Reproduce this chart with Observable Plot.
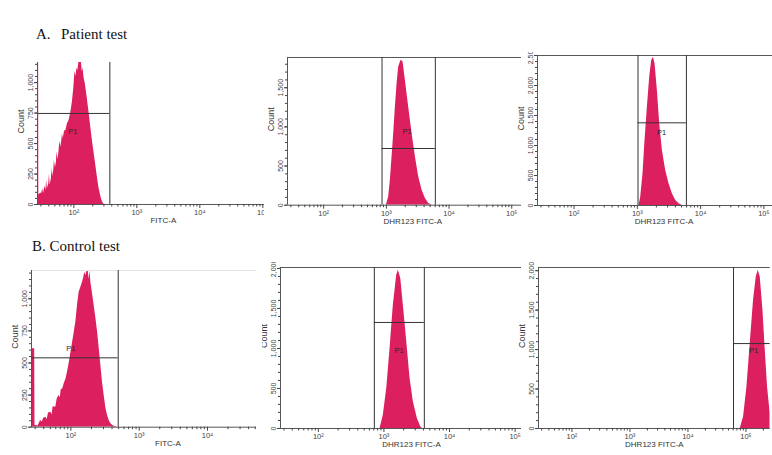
<!DOCTYPE html>
<html><head><meta charset="utf-8">
<script src="https://cdn.jsdelivr.net/npm/d3@7"></script>
<script src="https://cdn.jsdelivr.net/npm/@observablehq/plot@0.6"></script>
<style>
html,body{margin:0;padding:0;background:#fff;overflow:hidden;}
#root{position:relative;width:772px;height:455px;overflow:hidden;}
.title{position:absolute;font-family:"Liberation Serif","Times New Roman",serif;font-size:15px;line-height:15px;color:#111;white-space:pre;}
.panel{position:absolute;overflow:hidden;}
.panel svg{position:absolute;}
</style></head>
<body><div id="root"></div>
<script>
// ---------- shared axis data ----------
const xDomain = [26.5, 262144];
const xMajorTicks = [100, 1000, 10000, 100000];
const xMajorLabels = ["10²", "10³", "10⁴", "10⁵"];
const xMinorTicks = [30,40,50,60,70,80,90,200,300,400,500,600,700,800,900,
  2000,3000,4000,5000,6000,7000,8000,9000,20000,30000,40000,50000,60000,70000,80000,90000,200000];
const rowTitles = ["A.", "Patient test", "B. Control test"];
const gateName = "P1";

// ---------- A1: patient, FITC-A ----------
const a1Fluor = [26.5,27.6,27.8,29,31,32,33,34,35,36,37,38,40,41,42,44,45,46,48,49,51,53,54,56,58,60,62,64,66,68,71,75,79,84,90,95,100,104,108,112,116,120,132,136,140,145,152,161,168,175,186,198,210,223,237,252,270,286,303];
const a1Count = [1165,1165,80,88,95,130,90,120,150,115,200,130,170,250,160,210,300,230,280,360,300,350,430,370,431,520,470,510,580,540,600,610,660,690,760,843,960,1091,1050,1118,1100,1165,1165,1090,1120,1040,990,899,820,748,630,514,420,321,220,129,60,19,0];
const a1YMax = 1165, a1YTicks = [0,250,500,750,1000];
const a1Gate = [26.5, 373, 747];       // low, high, level
const a1GateLabel = [96, 599];
const a1XLabel = "FITC-A";

// ---------- A2: patient, DHR123 unstimulated ----------
const a2Fluor = [1000,1089,1158,1233,1310,1393,1483,1572,1714,1845,2009,2270,2570,2904,3283,3715,4190,4732,5358];
const a2Count = [0,106,319,617,916,1255,1554,1766,1852,1830,1596,1255,916,617,361,192,86,22,0];
const a2YMax = 1886, a2YTicks = [0,500,1000,1500];
const a2Gate = [853, 6040, 724];
const a2GateLabel = [2140, 936];
const a2XLabel = "DHR123 FITC-A";

// ---------- A3: patient, DHR123 stimulated ----------
const a3Fluor = [1064,1132,1231,1324,1443,1570,1688,1795,1905,2075,2258,2489,2809,3170,3581,4042,4560,5149];
const a3Count = [0,139,528,1083,1639,2139,2417,2472,2361,1917,1361,917,583,361,194,83,28,0];
const a3YMax = 2500, a3YTicks = [0,500,1000,1500,2000,2500];
const a3Gate = [1026, 5970, 1378];
const a3GateLabel = [2427, 1222];
const a3XLabel = "DHR123 FITC-A";

// ---------- B1: control, FITC-A ----------
const b1Fluor = [26.5,29.5,29.8,33,36,38,40,43,45,47,51,53,55,60,63,67,70,72,76,80,85,90,95,100,106,112,118,125,132,140,148,155,160,166,172,179,185,190,196,206,219,232,246,260,275,290,307,325,344,365,385,420,456,480];
const b1Count = [610,610,15,10,52,40,70,78,60,110,117,95,160,156,220,247,230,290,299,340,377,440,506,580,662,740,818,950,1051,1090,1129,1170,1207,1180,1220,1218,1150,1220,1129,1050,948,850,740,610,480,350,247,150,91,50,26,10,5,0];
const b1YMax = 1220, b1YTicks = [0,250,500,750,1000];
const b1Gate = [26.5, 493, 540];
const b1GateLabel = [100, 610];
const b1XLabel = "FITC-A";

// ---------- B2: control, DHR123 unstimulated ----------
const b2Fluor = [873,979,1104,1240,1391,1566,1660,1805,1977,2228,2502,2808,3230,3640,3850];
const b2Count = [0,166,500,1000,1541,1916,1979,1875,1541,1083,625,333,125,21,0];
const b2YMax = 2012, b2YTicks = [0,500,1000,1500,2000];
const b2Gate = [714, 4130, 1325];
const b2GateLabel = [1698, 979];
const b2XLabel = "DHR123 FITC-A";

// ---------- B3: control, DHR123 stimulated ----------
const b3Fluor = [79800,91000,104000,118600,135200,150600,163000,176400,196400,215300,235700,262144];
const b3Count = [0,147,527,1076,1624,1919,2004,1919,1497,991,527,190];
const b3YMax = 2040, b3YTicks = [0,500,1000,1500,2000];
const b3Gate = [61100, 262144, 1076];
const b3GateLabel = [135300, 991];
const b3XLabel = "DHR123 FITC-A";

// ---------- layout (positions only) ----------
const PINK = "#dc1f5e";
const root = document.getElementById("root");
const fmtComma = d3.format(",");

function addTitle(text, left, top) {
  const d = document.createElement("div");
  d.className = "title"; d.textContent = text;
  d.style.left = left + "px"; d.style.top = top + "px";
  root.appendChild(d);
}
addTitle(rowTitles[0], 36, 27);
addTitle(rowTitles[1], 61, 27);
addTitle(rowTitles[2], 32, 239);

function drawPanel(fluor, count, yMax, yTicks, yStep, gate, gateLabel, xLabel, L) {
  const lmin = Math.log10(xDomain[0]), lmax = Math.log10(xDomain[1]);
  const x0 = L.pos100 - (2 - lmin) * L.dec;
  const x1 = L.pos100 + (lmax - 2) * L.dec;
  const mL = 40, mR = 14, mT = 14, mB = 34;
  const width = (x1 - x0) + mL + mR;
  const height = (L.base - L.top) + mT + mB;
  const data = fluor.map((f, i) => ({x: f, y: count[i]}));
  const yMinor = d3.range(0, yMax + 1, yStep);
  const gateEdges = gate[1] >= xDomain[1] ? [gate[0]] : [gate[0], gate[1]];
  // only keep major tick labels that fall (at least partly) inside the visible crop
  const majors = xMajorTicks.filter(t => L.pos100 + (Math.log10(t) - 2) * L.dec < L.clip[2] + 2);
  const svg = Plot.plot({
    width, height, marginLeft: mL, marginRight: mR, marginTop: mT, marginBottom: mB,
    style: {fontFamily: "'Liberation Sans', Arial, sans-serif", fontSize: "7px", color: "#444", background: "none", maxWidth: "none", overflow: "visible"},
    x: {type: "log", domain: xDomain},
    y: {domain: [0, yMax]},
    marks: [
      Plot.areaY(data, {x: "x", y: "y", fill: PINK, clip: true}),
      L.topBorder ? Plot.ruleY([yMax], {stroke: L.topBorder, strokeWidth: 1}) : null,
      Plot.ruleX(gateEdges, {stroke: "#333", strokeWidth: 1}),
      Plot.ruleY([{y: gate[2], x1: gate[0], x2: gate[1]}], {y: "y", x1: "x1", x2: "x2", stroke: "#333", strokeWidth: 1}),
      Plot.text([{x: gateLabel[0], y: gateLabel[1]}], {x: "x", y: "y", text: () => gateName, fontSize: 7.5, fill: "#2a2a2a"}),
      Plot.ruleY([0], {stroke: "#555"}),
      Plot.ruleX([xDomain[0]], {stroke: "#555"}),
      Plot.axisX(majors, {tickSize: 4, tickPadding: 1, tickFormat: (d) => xMajorLabels[xMajorTicks.indexOf(d)], fontSize: 7.5, label: null}),
      Plot.axisX(xMinorTicks, {tickSize: 2.5, tickFormat: () => "", label: null}),
      Plot.axisY(yTicks, {tickSize: 3, tickPadding: 2, tickRotate: -90, tickFormat: (d) => fmtComma(d), fontSize: 7, label: null}),
      Plot.axisY(yMinor, {tickSize: 2, tickFormat: () => "", label: null}),
      Plot.text(["Count"], {frameAnchor: "left", rotate: -90, dx: -16, fontSize: 9, fill: "#333"}),
      Plot.text([xLabel], {frameAnchor: "bottom", dy: 19, fontSize: 8, fill: "#333"})
    ]
  });
  const div = document.createElement("div");
  div.className = "panel";
  const [cl, ct, cr, cb] = L.clip;
  div.style.left = cl + "px"; div.style.top = ct + "px";
  div.style.width = (cr - cl) + "px"; div.style.height = (cb - ct) + "px";
  svg.style.left = (x0 - mL - cl) + "px";
  svg.style.top = (L.top - mT - ct) + "px";
  div.appendChild(svg);
  root.appendChild(div);
}

drawPanel(a1Fluor, a1Count, a1YMax, a1YTicks, 50, a1Gate, a1GateLabel, a1XLabel,
  {pos100: 73, dec: 63, top: 62, base: 204, clip: [0, 46, 264, 240], topBorder: null});
drawPanel(a2Fluor, a2Count, a2YMax, a2YTicks, 100, a2Gate, a2GateLabel, a2XLabel,
  {pos100: 323.3, dec: 62.7, top: 57.3, base: 205, clip: [262, 44, 521, 240], topBorder: "#555"});
drawPanel(a3Fluor, a3Count, a3YMax, a3YTicks, 100, a3Gate, a3GateLabel, a3XLabel,
  {pos100: 573.3, dec: 63.3, top: 55, base: 205, clip: [515, 52, 772, 240], topBorder: "#555"});
drawPanel(b1Fluor, b1Count, b1YMax, b1YTicks, 50, b1Gate, b1GateLabel, b1XLabel,
  {pos100: 70, dec: 68.3, top: 270, base: 426.7, clip: [0, 262, 256, 455], topBorder: "#e4e4e4"});
drawPanel(b2Fluor, b2Count, b2YMax, b2YTicks, 100, b2Gate, b2GateLabel, b2XLabel,
  {pos100: 318.3, dec: 65.6, top: 267.3, base: 428.3, clip: [262, 262, 521, 455], topBorder: "#555"});
drawPanel(b3Fluor, b3Count, b3YMax, b3YTicks, 100, b3Gate, b3GateLabel, b3XLabel,
  {pos100: 571.7, dec: 58, top: 267.3, base: 428.3, clip: [515, 262, 772, 455], topBorder: "#555"});
</script>
</body></html>
